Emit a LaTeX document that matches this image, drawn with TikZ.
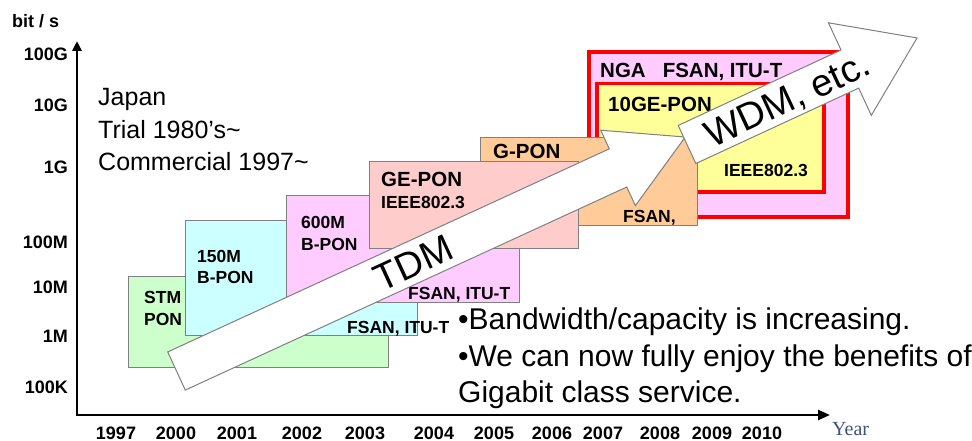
\documentclass[tikz,border=0pt]{standalone}
\usepackage{fontspec}
\usepackage{xcolor}
\setmainfont{Liberation Sans}
\newfontfamily\yearfont{Liberation Serif}
\usetikzlibrary{arrows.meta}
\definecolor{stmgreen}{HTML}{CCFFCC}
\definecolor{bponcyan}{HTML}{CCFFFF}
\definecolor{bponpink}{HTML}{FFCCFF}
\definecolor{geponrose}{HTML}{FFCCCC}
\definecolor{gponpeach}{HTML}{FFCC99}
\definecolor{ngayellow}{HTML}{FFFF99}
\definecolor{yearblue}{HTML}{3F5378}

\begin{document}
\begin{tikzpicture}[x=1pt, y=-1pt,
  box/.style = {draw=gray, line width=1pt, inner sep=0, anchor=north west},
  ngabox/.style = {draw=red, line width=4pt, inner sep=0, anchor=north west},
  lbl/.style = {font=\bfseries\fontsize{17.5}{20}\selectfont, inner sep=0, anchor=base west},
  biglbl/.style = {font=\bfseries\fontsize{20.5}{24}\selectfont, inner sep=0, anchor=base west},
  tick/.style = {font=\bfseries\fontsize{18}{20}\selectfont, inner sep=0},
  note/.style = {font=\fontsize{25}{30}\selectfont, inner sep=0, anchor=base west},
  bullet/.style = {font=\fontsize{30}{34}\selectfont, inner sep=0, anchor=base west},
  bigarrow/.style = {draw=gray, line width=1pt, fill=white, line join=miter},
  arrowtext/.style = {font=\fontsize{38}{40}\selectfont, inner sep=0},
  axis/.style = {line width=2.5pt, {Triangle[width=9pt, length=10pt]}-{Triangle[width=10pt, length=12pt]}}]
  \useasboundingbox (0,0) rectangle (972,441);

  \coordinate (origin) at (77,415);
  \coordinate (ytop) at (77,41);
  \coordinate (xend) at (830,415);
  \draw[axis] (ytop) -- (origin) -- (xend);

  \node[tick, anchor=base west] (unit) at (12,28) {bit / s};
  \node[tick, anchor=base east] (y1) at (68,61) {100G};
  \node[tick, anchor=base east] (y2) at (68,112) {10G};
  \node[tick, anchor=base east] (y3) at (68,173) {1G};
  \node[tick, anchor=base east] (y4) at (68,248) {100M};
  \node[tick, anchor=base east] (y5) at (68,293) {10M};
  \node[tick, anchor=base east] (y6) at (68,342) {1M};
  \node[tick, anchor=base east] (y7) at (68,393) {100K};

  \foreach \yr/\xx in {1997/116, 2000/176, 2001/237, 2002/302, 2003/365, 2004/434,
                       2005/494, 2006/552, 2007/603, 2008/660, 2009/712, 2010/762}
    \node[tick, anchor=base] (x\yr) at (\xx,439) {\yr};
  \node[font=\yearfont\fontsize{20}{22}\selectfont, text=yearblue, inner sep=0, anchor=base west] (year) at (832,435) {Year};

  \node[note] (japan) at (98,106) {Japan};
  \node[note] (trial) at (98,138.5) {Trial 1980's\textasciitilde};
  \node[note] (comm) at (98,171) {Commercial 1997\textasciitilde};

  \node[ngabox, fill=bponpink, minimum width=259, minimum height=165] (nga) at (587,50) {};
  \node[ngabox, line width=3.5pt, fill=ngayellow, minimum width=227, minimum height=108] (tenge) at (595,82) {};
  \node[biglbl] (ngatxt) at (600,78) {NGA\hspace{17pt}FSAN, ITU-T};
  \node[biglbl] (tengetxt) at (608,112) {10GE-PON};
  \node[lbl] (tengestd) at (724,176) {IEEE802.3};

  \node[box, fill=gponpeach, minimum width=217, minimum height=88] (gpon) at (480,137) {};
  \node[biglbl] (gpontxt) at (493,158) {G-PON};
  \node[lbl] (gponstd) at (623,222) {FSAN,};

  \node[box, fill=stmgreen, minimum width=260, minimum height=91] (stm) at (128,276) {};
  \node[lbl] (stm1) at (144,303) {STM};
  \node[lbl] (stm2) at (144,325) {PON};

  \node[box, fill=bponcyan, minimum width=232, minimum height=115] (bpon1) at (185,220) {};
  \node[lbl] (bpon1a) at (197,262) {150M};
  \node[lbl] (bpon1b) at (197,283) {B-PON};
  \node[lbl] (bpon1std) at (347,333) {FSAN, ITU-T};

  \node[box, fill=bponpink, minimum width=233, minimum height=107] (bpon2) at (286,195) {};
  \node[lbl] (bpon2a) at (301,228) {600M};
  \node[lbl] (bpon2b) at (301,250) {B-PON};
  \node[lbl] (bpon2std) at (408,299) {FSAN, ITU-T};

  \node[box, fill=geponrose, minimum width=209, minimum height=87] (gepon) at (369,161) {};
  \node[biglbl] (gepontxt) at (381,186) {GE-PON};
  \node[lbl] (geponstd) at (381,208) {IEEE802.3};

  \begin{scope}[shift={(176.5,371)}, rotate=24.7]
    \draw[bigarrow] (0,-21) -- (486,-21) -- (486,-41.5) -- (560,0) -- (486,41.5) -- (486,21) -- (0,21) -- cycle;
  \end{scope}
  \node[arrowtext, rotate=24.7] (tdm) at (413,263) {TDM};

  \begin{scope}[shift={(687,144.5)}, rotate=24.85]
    \draw[bigarrow] (0,-21) -- (179.5,-21) -- (179.5,-51) -- (253.5,0) -- (179.5,51) -- (179.5,21) -- (0,21) -- cycle;
  \end{scope}
  \node[arrowtext, rotate=25] (wdm) at (788,101) {WDM, etc.};

  \node[bullet] (b1) at (458,329) {\textbullet Bandwidth/capacity is increasing.};
  \node[bullet] (b2) at (458,366) {\textbullet We can now fully enjoy the benefits of};
  \node[bullet] (b3) at (458,402) {Gigabit class service.};
\end{tikzpicture}
\end{document}
